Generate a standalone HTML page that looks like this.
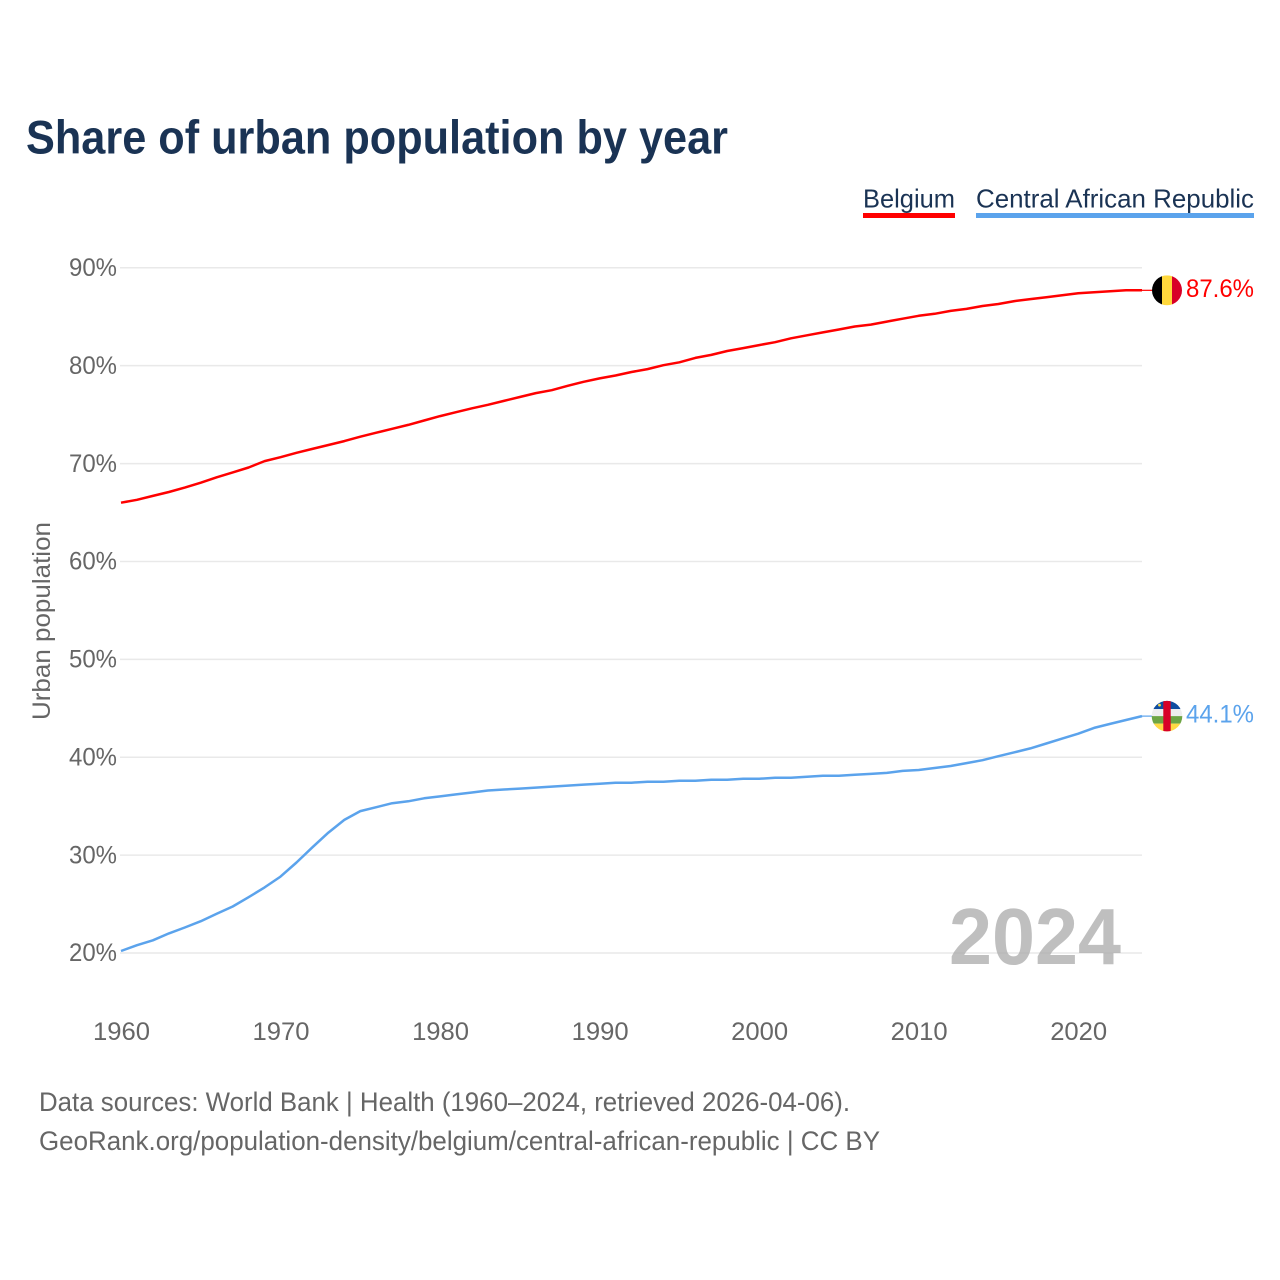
<!DOCTYPE html>
<html lang="en">
<head>
<meta charset="utf-8">
<title>Share of urban population by year</title>
<style>
html,body{margin:0;padding:0;background:#fff}
svg{display:block}
text{font-family:"Liberation Sans",Arial,sans-serif}
</style>
</head>
<body>
<svg id="chart" xmlns="http://www.w3.org/2000/svg" width="1280" height="1280" viewBox="0 0 1280 1280">
  <defs>
    <clipPath id="clip-be"><circle id="clip-be-c" cx="1167" cy="290" r="15"/></clipPath>
    <clipPath id="clip-cf"><circle id="clip-cf-c" cx="1167" cy="716" r="15.3"/></clipPath>
  </defs>
  <rect width="1280" height="1280" fill="#fff"/>
  <text x="26" y="153.5" font-size="47" font-weight="700" fill="#1a3354" textLength="702" lengthAdjust="spacingAndGlyphs">Share of urban population by year</text>

  <g>
    <g>
      <text x="863" y="207.5" font-size="26" fill="#1a3354" textLength="92" lengthAdjust="spacingAndGlyphs">Belgium</text>
      <rect x="863" y="213" width="92" height="5" fill="#ff0000"/>
    </g>
    <g>
      <text x="976" y="207.5" font-size="26" fill="#1a3354" textLength="278" lengthAdjust="spacingAndGlyphs">Central African Republic</text>
      <rect x="976" y="213" width="278" height="5" fill="#5ba3ec"/>
    </g>
  </g>

  <g id="grid"></g>
  <g id="yticks"></g>
  <g id="xticks"></g>

  <text transform="translate(50,720) rotate(-90)" font-size="25" fill="#666" textLength="198" lengthAdjust="spacingAndGlyphs">Urban population</text>

  <text x="949" y="964" font-size="80" font-weight="700" fill="#aaaaaa" fill-opacity="0.75" textLength="172" lengthAdjust="spacingAndGlyphs">2024</text>

  <g id="series"></g>

  <g id="flag-be" clip-path="url(#clip-be)">
    <rect x="1152" y="275" width="10" height="30" fill="#000"/>
    <rect x="1162" y="275" width="10" height="30" fill="#ffd83d"/>
    <rect x="1172" y="275" width="10" height="30" fill="#d80027"/>
  </g>
  <g id="flag-cf" clip-path="url(#clip-cf)">
    <rect x="1151" y="700" width="32" height="9" fill="#0f4da0"/>
    <rect x="1151" y="709" width="32" height="7" fill="#eeeeee"/>
    <rect x="1151" y="716" width="32" height="7.5" fill="#6da544"/>
    <rect x="1151" y="723.5" width="32" height="9" fill="#ffda44"/>
    <rect x="1163.3" y="700" width="7.4" height="32" fill="#d80027"/>
    <circle cx="1159.5" cy="705" r="1.4" fill="#ffda44"/>
  </g>
  <g id="endlabels"></g>

  <text x="39" y="1111" font-size="26.5" fill="#666" textLength="811" lengthAdjust="spacingAndGlyphs">Data sources: World Bank | Health (1960–2024, retrieved 2026-04-06).</text>
  <text x="39" y="1150" font-size="26.5" fill="#666" textLength="841" lengthAdjust="spacingAndGlyphs">GeoRank.org/population-density/belgium/central-african-republic | CC BY</text>
</svg>
<script>
const years = [1960,1961,1962,1963,1964,1965,1966,1967,1968,1969,1970,1971,1972,1973,1974,1975,1976,1977,1978,1979,1980,1981,1982,1983,1984,1985,1986,1987,1988,1989,1990,1991,1992,1993,1994,1995,1996,1997,1998,1999,2000,2001,2002,2003,2004,2005,2006,2007,2008,2009,2010,2011,2012,2013,2014,2015,2016,2017,2018,2019,2020,2021,2022,2023,2024];
const belgium = [66.0,66.3,66.7,67.1,67.55,68.05,68.6,69.1,69.6,70.25,70.65,71.1,71.5,71.9,72.3,72.75,73.15,73.55,73.95,74.4,74.85,75.25,75.65,76.0,76.4,76.8,77.2,77.5,77.95,78.35,78.7,79.0,79.35,79.65,80.05,80.35,80.8,81.1,81.5,81.8,82.1,82.4,82.8,83.1,83.4,83.7,84.0,84.2,84.5,84.8,85.1,85.3,85.6,85.8,86.1,86.3,86.6,86.8,87.0,87.2,87.4,87.5,87.6,87.7,87.7];
const car = [20.2,20.8,21.3,22.0,22.6,23.25,24.0,24.75,25.7,26.7,27.8,29.25,30.8,32.3,33.6,34.5,34.9,35.3,35.5,35.8,36.0,36.2,36.4,36.6,36.7,36.8,36.9,37.0,37.1,37.2,37.3,37.4,37.4,37.5,37.5,37.6,37.6,37.7,37.7,37.8,37.8,37.9,37.9,38.0,38.1,38.1,38.2,38.3,38.4,38.6,38.7,38.9,39.1,39.4,39.7,40.1,40.5,40.9,41.4,41.9,42.4,43.0,43.4,43.8,44.2];
const yTickValues = [20,30,40,50,60,70,80,90];
const yTickLabels = ['20%','30%','40%','50%','60%','70%','80%','90%'];
const xTickValues = [1960,1970,1980,1990,2000,2010,2020];
const xTickLabels = ['1960','1970','1980','1990','2000','2010','2020'];
const endLabels = ['87.6%','44.1%'];

const NS = 'http://www.w3.org/2000/svg';
const xScale = v => 121 + (v - 1960) * (1142 - 121) / 64;
const yScale = v => 953 - (v - 20) * (953 - 267.8) / 70;
const mk = (tag, parent) => { const e = document.createElementNS(NS, tag); parent.appendChild(e); return e; };

const gridG = document.getElementById('grid');
const yG = document.getElementById('yticks');
yTickValues.forEach((v, i) => {
  const l = mk('line', gridG);
  
  
  l.setAttribute('x1', 120);
  l.setAttribute('x2', 1142);
  l.setAttribute('y1', yScale(v));
  l.setAttribute('y2', yScale(v));
  l.setAttribute('stroke', '#e9e9e9');
  l.setAttribute('stroke-width', 1.5);
  const t = mk('text', yG);
  
  
  t.setAttribute('x', 69);
  t.setAttribute('y', yScale(v) + 8.2);
  t.setAttribute('font-size', 25);
  t.setAttribute('fill', '#666');
  t.setAttribute('textLength', 48);
  t.setAttribute('lengthAdjust', 'spacingAndGlyphs');
  t.textContent = yTickLabels[i];
});

const xG = document.getElementById('xticks');
xTickValues.forEach((v, i) => {
  const t = mk('text', xG);
  
  
  t.setAttribute('x', xScale(v) - 28);
  t.setAttribute('y', 1040);
  t.setAttribute('font-size', 25);
  t.setAttribute('fill', '#666');
  t.setAttribute('textLength', 57);
  t.setAttribute('lengthAdjust', 'spacingAndGlyphs');
  t.textContent = xTickLabels[i];
});

const seriesG = document.getElementById('series');
const labelG = document.getElementById('endlabels');
[[belgium, '#ff0000', 'belgium'], [car, '#5ba3ec', 'central-african-republic']].forEach((s, k) => {
  const p = mk('polyline', seriesG);
  
  
  p.setAttribute('fill', 'none');
  p.setAttribute('stroke', s[1]);
  p.setAttribute('stroke-width', 2.5);
  p.setAttribute('stroke-linejoin', 'round');
  p.setAttribute('points', s[0].map((v, i) => xScale(years[i]).toFixed(1) + ',' + yScale(v).toFixed(1)).join(' '));
  const lastY = yScale(s[0][s[0].length - 1]);
  const c = mk('line', seriesG);
  
  
  c.setAttribute('x1', 1142);
  c.setAttribute('x2', 1153);
  c.setAttribute('y1', lastY);
  c.setAttribute('y2', lastY);
  c.setAttribute('stroke', s[1]);
  c.setAttribute('stroke-width', 1.2);
  const t = mk('text', labelG);
  
  
  t.setAttribute('x', 1186);
  t.setAttribute('y', lastY + 6.5);
  t.setAttribute('font-size', 25);
  t.setAttribute('fill', s[1]);
  t.setAttribute('textLength', 68);
  t.setAttribute('lengthAdjust', 'spacingAndGlyphs');
  t.textContent = endLabels[k];
  const flagId = k === 0 ? 'be' : 'cf';
  const baseY = k === 0 ? 290 : 716;
  document.getElementById('flag-' + flagId).setAttribute('transform', 'translate(0,' + (lastY - baseY) + ')');
});
</script>
</body>
</html>
